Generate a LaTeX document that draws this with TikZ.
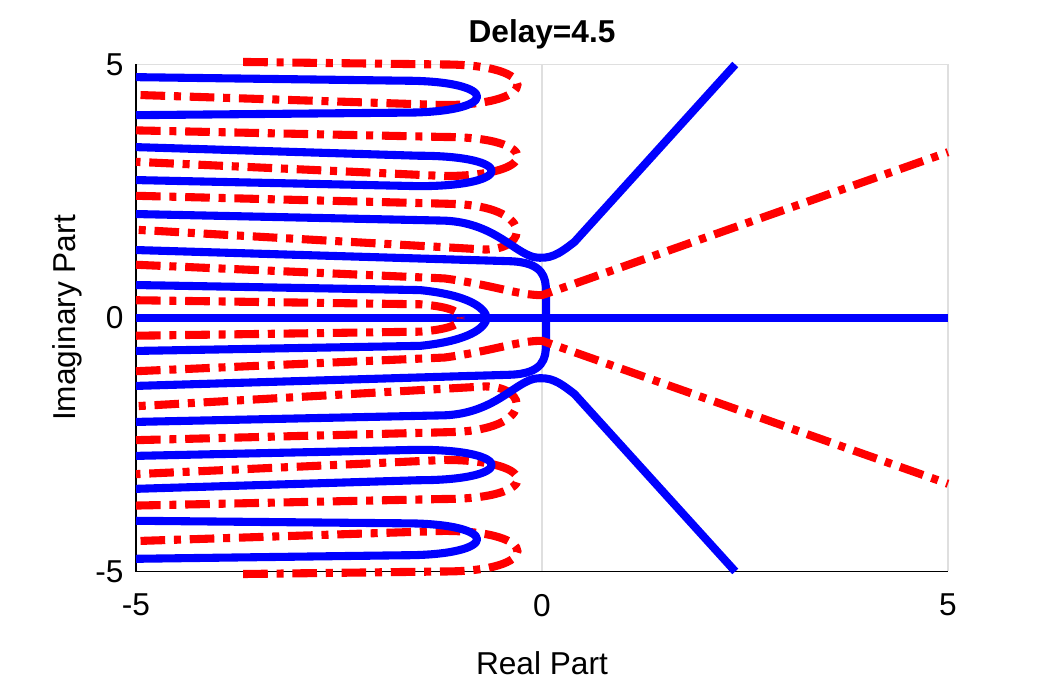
\documentclass[tikz,border=0pt]{standalone}
\usepackage{fontspec}
\setmainfont{Liberation Sans}
\begin{document}
\begin{tikzpicture}[
  bl/.style={draw=blue,line width=2.3pt,line join=round},
  rd/.style={draw=red,line width=2.3pt,dash pattern=on 7pt off 2.5pt on 2pt off 2.5pt},
  lab/.style={font=\fontsize{9}{10}\selectfont}]
\useasboundingbox (0,0) rectangle (10.47,6.88);
\newcommand\uloop[5]{(-5,#1) -- (#5-0.9,#2) .. controls (#5+0.3,#2) and (#5+0.3,#3) .. (#5-0.9,#3) -- (-5,#4)}
\begin{scope}[shift={(5.42,3.70)},x=0.812cm,y=0.507cm]
\draw[gray!25,line width=0.5pt] (-5,5) -- (5,5) -- (5,-5) (0,-5) -- (0,5);
\draw[black,line width=0.5pt] (-5,5) -- (-5,-5) -- (5,-5);
\node[lab,left] (y5) at (-5,5) {5};
\node[lab,left] (y0) at (-5,0) {0};
\node[lab,left] (ym) at (-5,-5) {-5};
\node[lab,below] (xm) at (-5,-5.2) {-5};
\node[lab,below] (x0) at (0,-5.2) {0};
\node[lab,below] (x5) at (5,-5.2) {5};
\node[lab] (xl) at (0,-6.8) {Real Part};
\node[lab,rotate=90] (yl) at (-5.85,0) {Imaginary Part};
\node[lab,font=\bfseries\fontsize{9}{10}\selectfont] (tt) at (0,5.6) {Delay=4.5};
\draw[bl] (-5,0) -- (5,0);
\foreach \s in {1,-1}{
\begin{scope}[yscale=\s]
\draw[rd] (-3.68,5.05) -- (-1.21,5.0) .. controls (0,5.0) and (0,4.2) .. (-1.21,4.2) -- (-5,4.4);
\draw[rd] \uloop{3.7}{3.57}{2.8}{3.08}{-0.3};
\draw[bl] \uloop{4.75}{4.68}{4.05}{4.0}{-0.8};
\draw[bl] \uloop{3.37}{3.2}{2.6}{2.72}{-0.62};
\draw[rd] (-5,2.41) -- (-1.1,2.25) .. controls (-0.1,2.2) and (-0.15,1.35) .. (-0.7,1.35) -- (-5,1.74);
\draw[bl] (-5,2.05) -- (-1.2,1.92) .. controls (-0.6,1.88) and (-0.35,1.3) .. (-0.1,1.2) .. controls (0.1,1.15) and (0.2,1.25) .. (0.4,1.5) -- (2.38,5);
\draw[bl] (-5,1.34) -- (-0.4,1.12) .. controls (0.02,1.1) and (0.05,0.8) .. (0.05,0.5) -- (0.05,0);
\draw[rd] (-5,1.05) -- (-1.2,0.78) .. controls (-0.6,0.65) and (-0.3,0.45) .. (0,0.45) -- (5,3.27);
\draw[bl] (-5,0.65) -- (-1.5,0.55) .. controls (-0.9,0.45) and (-0.7,0.2) .. (-0.68,0);
\draw[rd] (-5,0.35) -- (-1.5,0.27) .. controls (-1.1,0.22) and (-1.0,0.1) .. (-1.0,0);
\end{scope}}
\end{scope}
\end{tikzpicture}
\end{document}
